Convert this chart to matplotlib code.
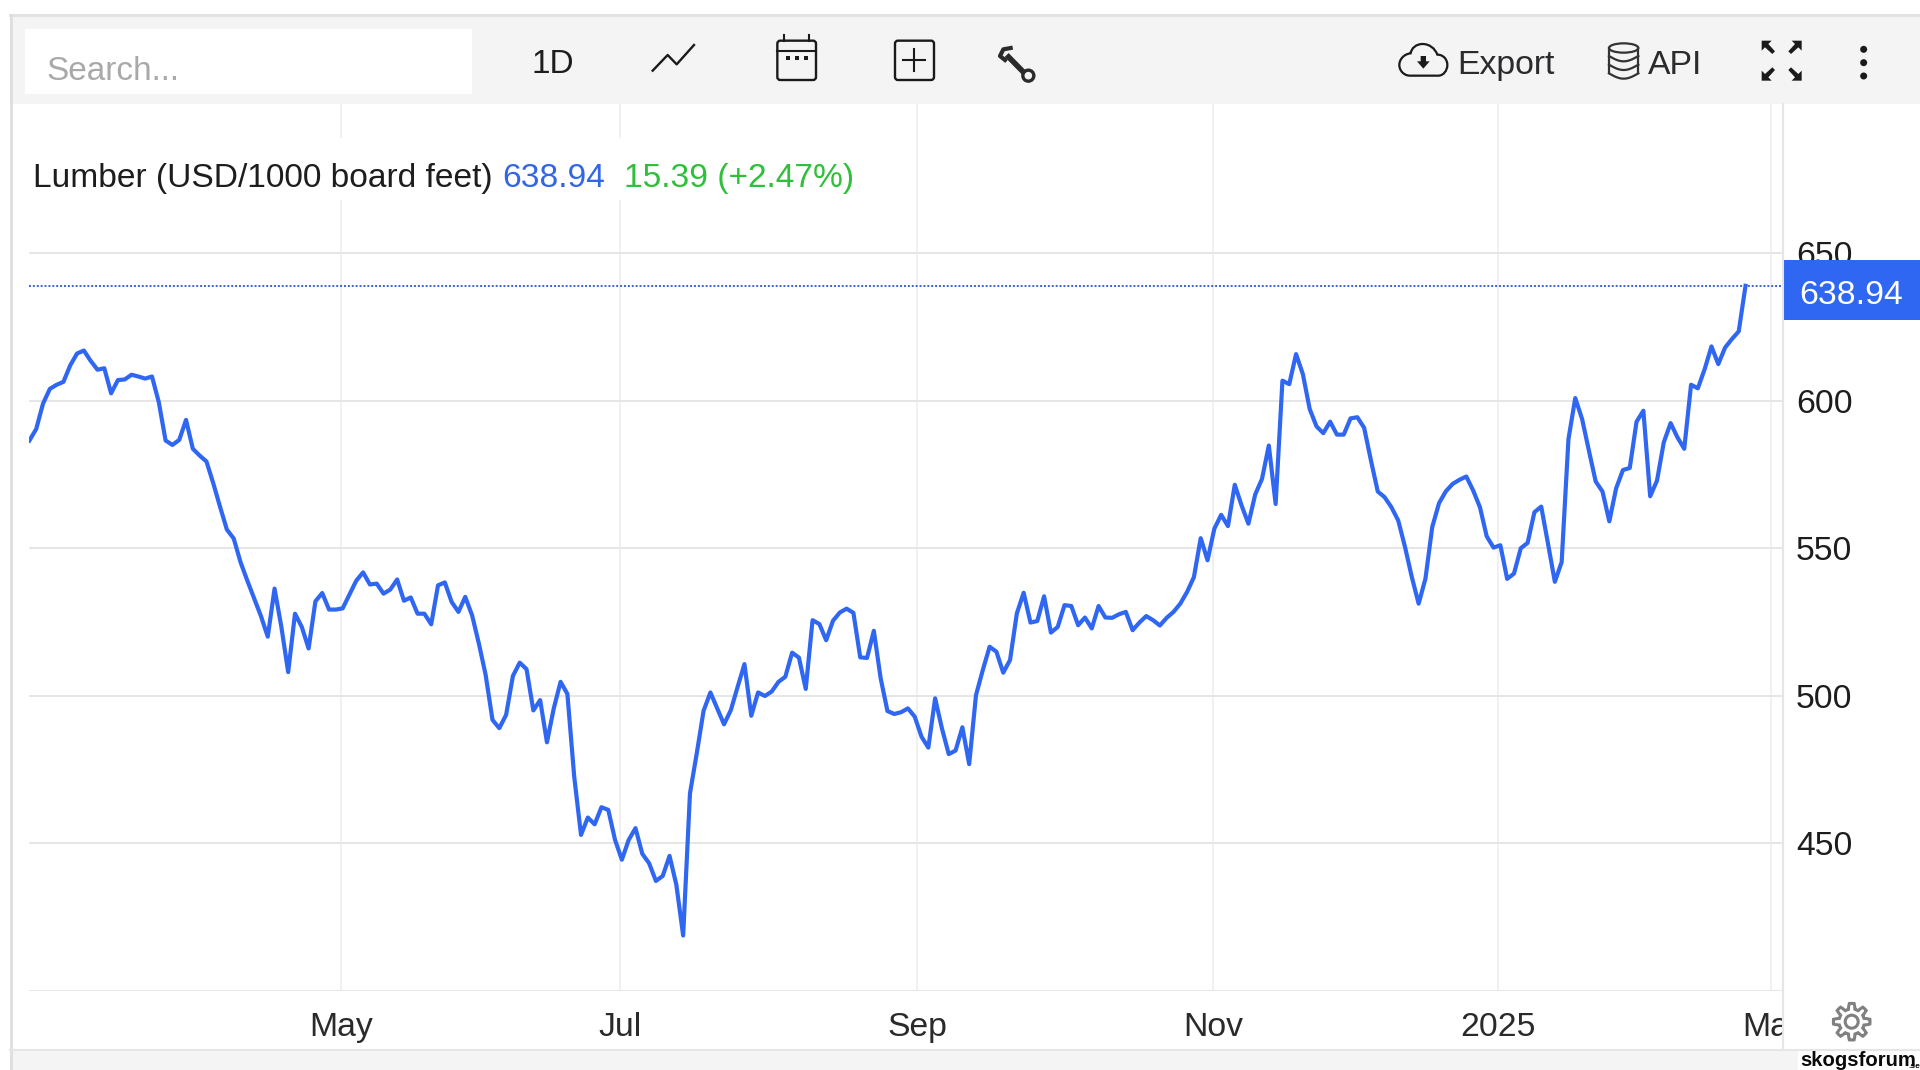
import numpy as np
import matplotlib
matplotlib.use("Agg")
import matplotlib.pyplot as plt
from matplotlib.patches import Rectangle, FancyBboxPatch, Circle, Ellipse, Polygon, PathPatch
from matplotlib.path import Path

plt.rcParams['font.family'] = ['Liberation Sans', 'DejaVu Sans']

# lumber closes, one value per trading day
lumber = [
    586.5, 590.4, 599.0, 604.0, 605.4, 606.4, 612.0, 616.0, 617.0, 613.5,
    610.5, 611.0, 602.5, 607.0, 607.2, 608.8, 608.2, 607.5, 608.2, 599.5,
    586.5, 585.0, 586.7, 593.5, 583.7, 581.4, 579.4, 572.0, 564.0, 556.3,
    553.3, 545.3, 539.0, 533.0, 527.0, 520.0, 536.3, 523.3, 508.0, 527.8,
    523.3, 516.0, 532.0, 534.8, 529.2, 529.2, 529.6, 534.3, 539.0, 541.8,
    537.7, 538.0, 534.6, 536.0, 539.4, 532.2, 533.3, 527.8, 527.8, 524.2,
    537.4, 538.4, 531.8, 528.4, 533.5, 527.3, 517.7, 507.0, 491.8, 489.0,
    493.5, 506.7, 511.2, 509.0, 495.0, 498.5, 484.2, 495.7, 504.7, 500.6,
    472.6, 452.8, 458.7, 456.4, 462.2, 461.3, 451.1, 444.4, 451.1, 455.1,
    446.4, 443.2, 437.2, 438.9, 445.7, 435.9, 418.7, 466.9, 480.5, 494.9,
    501.1, 495.7, 490.3, 495.1, 503.0, 510.7, 493.2, 501.1, 499.9, 501.4,
    504.7, 506.4, 514.6, 512.9, 502.3, 525.6, 524.3, 518.8, 525.4, 528.2,
    529.5, 528.1, 513.0, 512.8, 522.0, 505.9, 494.8, 493.8, 494.4, 495.7,
    492.9, 486.1, 482.4, 499.1, 488.9, 480.2, 481.4, 489.3, 476.8, 500.2,
    508.7, 516.6, 514.9, 507.8, 512.1, 527.9, 534.9, 524.8, 525.3, 533.7,
    521.4, 523.3, 530.7, 530.4, 523.9, 526.5, 522.8, 530.4, 526.5, 526.4,
    527.6, 528.4, 522.2, 524.8, 527.0, 525.6, 523.8, 526.4, 528.4, 531.2,
    535.2, 540.2, 553.4, 545.9, 556.6, 561.3, 557.5, 571.5, 564.5, 558.3,
    568.2, 573.5, 584.8, 565.0, 606.8, 605.6, 615.8, 609.0, 597.2, 591.3,
    589.0, 592.9, 588.5, 588.5, 594.0, 594.4, 590.8, 579.7, 569.2, 567.3,
    563.9, 559.4, 550.4, 540.2, 531.2, 539.7, 557.2, 565.3, 569.3, 571.8,
    573.2, 574.3, 569.6, 563.9, 554.0, 550.2, 551.0, 539.6, 541.4, 550.0,
    551.8, 562.2, 564.1, 551.5, 538.6, 545.3, 587.0, 600.9, 593.8, 583.1,
    572.6, 569.2, 559.1, 570.3, 576.5, 577.2, 592.9, 596.6, 567.6, 572.9,
    585.9, 592.4, 587.6, 583.7, 605.4, 604.2, 610.7, 618.4, 612.4, 618.0,
    620.9, 623.5, 638.94,
]
last_price = 638.94

# the time axis is ordinal, so month ticks sit at trading-day positions
month_pos = [45.73, 86.77, 130.38, 173.8, 215.65, 255.74]
month_labels = ['May', 'Jul', 'Sep', 'Nov', '2025', 'Mar']
price_ticks = [400, 450, 500, 550, 600, 650]
price_labels = ['', '450', '500', '550', '600', '650']

title_name = 'Lumber (USD/1000 board feet)'
title_price = '638.94'
title_change = '15.39 (+2.47%)'

BLUE = '#2f66f2'
GRID = '#e6e6e6'
GRID_V = '#f0f0f0'
BAND = '#f4f4f5'
INK = '#1d1d1f'

W, H = 1920, 1070
fig = plt.figure(figsize=(W / 100, H / 100), dpi=100, facecolor='white')

# price chart, placed by pixels
px_l, px_r, px_t, px_b = 29.4, 1782, 104, 990.7
ax = fig.add_axes([px_l / W, (H - px_b) / H, (px_r - px_l) / W, (px_b - px_t) / H])
ax.set_xlim(0, (px_r - px_l) / 6.81)
ax.set_ylim(400, 400 + (px_b - px_t) / 2.95)
for s in ax.spines.values():
    s.set_visible(False)
ax.set_xticks(month_pos, month_labels)
ax.set_yticks(price_ticks, price_labels)
ax.yaxis.tick_right()
ax.tick_params(axis='both', length=0, labelsize=24.3, labelcolor=INK)
ax.tick_params(axis='x', pad=15.5)
ax.tick_params(axis='y', pad=10)
ax.grid(True, axis='y', color=GRID, lw=1.4)
ax.grid(True, axis='x', color=GRID_V, lw=1.4)
ax.set_axisbelow(True)
for lab in ax.get_xticklabels():
    lab.set_color('#2a2a2c')

ax.axhline(last_price, color='#3a62e0', lw=1.4, ls=(0, (1, 1)), zorder=2)
ax.plot(range(len(lumber)), lumber, color=BLUE, lw=3.0, solid_joinstyle='round',
        clip_on=True, zorder=3)

# everything around the chart: toolbar, badge, frame, in pixel coordinates
ui = fig.add_axes([0, 0, 1, 1], facecolor='none')
ui.set_xlim(0, W)
ui.set_ylim(H, 0)
ui.axis('off')

ui.add_patch(Rectangle((10, 15), W - 10, 89, fc=BAND, ec='none'))
ui.plot([10, W], [15, 15], color='#e2e2e2', lw=2.2)
ui.plot([10.5, 10.5], [15, H], color='#dedede', lw=2)
ui.add_patch(Rectangle((24.5, 29), 447, 65, fc='white', ec='none'))
ui.text(46, 68, 'Search...', fontsize=24, color='#a9a9a9', va='center_baseline')
ui.text(553, 61, '1D', fontsize=24, color=INK, ha='center', va='center_baseline')


def z7(pts):
    return [(620 + a / 3, 20 + b / 3) for a, b in pts]


def z8(pts):
    return [(1390 + a / 3, 20 + b / 3) for a, b in pts]


# zigzag icon
xs, ys = zip(*z7([(98, 152), (143, 105), (170, 133), (222, 75)]))
ui.plot(xs, ys, color='#1a1a1a', lw=1.7)

# calendar icon
(cx0, cy0), (cx1, cy1) = z7([(472, 62), (588, 180)])
ui.add_patch(FancyBboxPatch((cx0 + 3, cy0 + 3), cx1 - cx0 - 6, cy1 - cy0 - 6,
                            boxstyle='round,pad=3', fc='none', ec='#1a1a1a', lw=1.7))
xs, ys = zip(*z7([(472, 92), (588, 92)]))
ui.plot(xs, ys, color='#1a1a1a', lw=1.5)
for tx in (492, 567):
    xs, ys = zip(*z7([(tx, 46), (tx, 62)]))
    ui.plot(xs, ys, color='#1a1a1a', lw=1.5)
for dx in (503, 530, 557):
    (qx, qy), = z7([(dx, 113)])
    ui.add_patch(Rectangle((qx - 2, qy - 2), 4, 4, fc='#1a1a1a', ec='none'))

# add box icon
(bx0, by0), (bx1, by1) = z7([(825, 62), (942, 180)])
ui.add_patch(FancyBboxPatch((bx0 + 3, by0 + 3), bx1 - bx0 - 6, by1 - by0 - 6,
                            boxstyle='round,pad=3', fc='none', ec='#1a1a1a', lw=1.7))
xs, ys = zip(*z7([(850, 120), (916, 120)]))
ui.plot(xs, ys, color='#1a1a1a', lw=1.5)
xs, ys = zip(*z7([(883, 87), (883, 154)]))
ui.plot(xs, ys, color='#1a1a1a', lw=1.5)

# wrench icon
xs, ys = zip(*z7([(1160, 105), (1212, 158)]))
ui.plot(xs, ys, color='#2a2a2a', lw=4, solid_capstyle='butt')
xs, ys = zip(*z7([(1172, 84), (1150, 88), (1140, 108), (1155, 120)]))
ui.plot(xs, ys, color='#2a2a2a', lw=3)
(wx, wy), = z7([(1225, 167)])
ui.add_patch(Circle((wx, wy), 5.5, fc='none', ec='#2a2a2a', lw=2.4))

# cloud icon
cloud = z8([(60, 167), (145, 167),
            (160, 167), (172, 152), (172, 135),
            (172, 118), (160, 104), (142, 104),
            (135, 85), (118, 72), (98, 72),
            (78, 72), (64, 85), (62, 100),
            (42, 102), (28, 118), (28, 135),
            (28, 152), (42, 167), (60, 167)])
codes = [Path.MOVETO, Path.LINETO] + [Path.CURVE4] * 18
ui.add_patch(PathPatch(Path(cloud, codes), fc='none', ec='#1a1a1a', lw=1.6))
ui.add_patch(Polygon(z8([(92, 108), (108, 108), (108, 124), (119, 124), (100, 146),
                         (81, 124), (92, 124)]), fc='#1a1a1a', ec='none'))
ui.text(1457, 62, 'Export', fontsize=24.3, color='#2b2b2e', va='center_baseline')

# database icon
(ex, ey), = z8([(701, 84)])
ui.add_patch(Ellipse((ex, ey), 88 / 3, 28 / 3, fc='none', ec='#333333', lw=1.6))
for sx in (657, 745):
    xs, ys = zip(*z8([(sx, 84), (sx, 160)]))
    ui.plot(xs, ys, color='#333333', lw=1.6)
for ty in (108, 134, 160):
    xs = np.linspace(657, 745, 20)
    ys = ty + 16 * np.sin((xs - 657) / 88 * np.pi)
    q = z8(list(zip(xs, ys)))
    ui.plot([p[0] for p in q], [p[1] for p in q], color='#333333', lw=1.6)
ui.text(1648, 62, 'API', fontsize=24.3, color='#2b2b2e', va='center_baseline')

# fullscreen icon
for (a, b, sx, sy) in [(1115, 62, 1, 1), (1235, 62, -1, 1), (1115, 182, 1, -1), (1235, 182, -1, -1)]:
    ui.add_patch(Polygon(z8([(a, b), (a + sx * 30, b), (a + sx * 20, b + sy * 10),
                             (a + sx * 40, b + sy * 32), (a + sx * 32, b + sy * 40),
                             (a + sx * 10, b + sy * 20), (a, b + sy * 30)]),
                         fc='#1a1a1a', ec='none'))

# kebab menu
for ty in (88, 128, 168):
    (qx, qy), = z8([(1421, ty)])
    ui.add_patch(Circle((qx, qy), 3.5, fc='#1a1a1a', ec='none'))

# title strip covers the vertical grid lines
ui.add_patch(Rectangle((24, 138), 860, 62, fc='white', ec='none'))
ui.text(33, 175, title_name, fontsize=24.1, color=INK, va='center_baseline')
ui.text(502, 175, title_price, fontsize=24.1, color='#3366e6', va='center_baseline')
ui.text(624, 175, title_change, fontsize=24.1, color='#2fbf3a', va='center_baseline')

# y axis rule and the price badge
ui.plot([1782.5, 1782.5], [104, 1050], color='#e6e6e6', lw=1.5)
ui.add_patch(Rectangle((1783.5, 260), W - 1783.5, 60, fc=BLUE, ec='none'))
ui.text(1851, 292, title_price, fontsize=24.3, color='white', ha='center', va='center_baseline')

# cover on the cut Mar label
ui.add_patch(Rectangle((1783.5, 995), 140, 55, fc='white', ec='none'))

# settings gear
ang = np.linspace(0, 2 * np.pi, 97)
rad = 15.5 + 2.8 * np.clip(3 * np.cos(8 * ang), -1, 1)
gear = np.c_[1851.7 + rad * np.cos(ang), 1021.7 + rad * np.sin(ang)]
ui.add_patch(Polygon(gear, fc='none', ec='#808080', lw=2.2))
ui.add_patch(Circle((1851.7, 1021.7), 6.5, fc='none', ec='#808080', lw=2.2))

# bottom band and watermark
ui.add_patch(Rectangle((10, 1050), W - 10, 20, fc=BAND, ec='none'))
ui.plot([10, W], [1050, 1050], color='#e6e6e6', lw=1.5)
ui.add_patch(Rectangle((1798, 1049), W - 1798, 21, fc='white', ec='none'))
ui.text(1800, 1059, 'skogsforum', fontsize=14.6, fontweight='bold', color='#0a0a0a',
        va='center_baseline')
ui.text(1908, 1065, '.se', fontsize=6, fontweight='bold', color='#0a0a0a', va='center_baseline')

fig.savefig('out.png', dpi=100)
